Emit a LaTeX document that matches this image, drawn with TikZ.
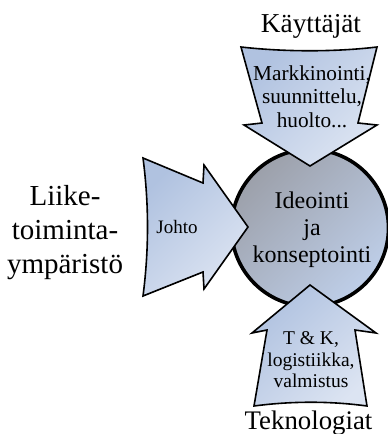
\documentclass[tikz,border=0pt]{standalone}
\usepackage{fontspec}
\setmainfont{Liberation Serif}
\begin{document}
\begin{tikzpicture}[x=1pt,y=-1pt,
  blockarrow/.style={draw=black, line width=1.6pt, line join=miter,
    top color=arrowdark, bottom color=arrowlight, shading angle=45},
  hub/.style={circle, draw=black, line width=3.6pt, minimum size=157pt,
    inner sep=0pt, top color=hubdark, bottom color=hublight, shading angle=45},
  labeltext/.style={align=center, inner sep=0pt}]
\definecolor{arrowdark}{RGB}{176,194,224}
\definecolor{arrowlight}{RGB}{220,228,242}
\definecolor{hubdark}{RGB}{156,160,170}
\definecolor{hublight}{RGB}{190,206,232}
\useasboundingbox (0,0) rectangle (388,434);

% central circle
\node[hub] (core) at (310,228) {};
\node[labeltext, font=\fontsize{24}{27}\selectfont] (coretext) at (312,229.4)
  {Ideointi\\ja\\konseptointi};

% top arrow (users)
\path[blockarrow] (241,47) .. controls (285,52) and (335,52) .. (377,47)
  -- (358,123) -- (377,125) -- (310,166) -- (244,125) -- (262,123) -- cycle;
% left arrow (business environment)
\path[blockarrow] (143,158) -- (203,183) -- (204,165) -- (248,227)
  -- (204,289) -- (203,272) -- (143,296)
  .. controls (149,250) and (149,204) .. cycle;
% bottom arrow (technologies)
\path[blockarrow] (310,285) -- (376,333) -- (355,330) -- (367,406)
  .. controls (330,401) and (292,401) .. (254,406) -- (267,330) -- (252,333) -- cycle;

% labels
\node[labeltext, anchor=base, font=\fontsize{27.3}{33}\selectfont] (users) at (311,32) {Käyttäjät};
\node[labeltext, anchor=base, font=\fontsize{26.8}{33}\selectfont] (tech) at (308.5,429) {Teknologiat};
\node[labeltext, font=\fontsize{29}{34}\selectfont] (business) at (65,232.3) {Liike-\\toiminta-\\ympäristö};
\node[labeltext, font=\fontsize{21.3}{23.5}\selectfont] (usersin) at (312,96.3) {Markkinointi,\\suunnittelu,\\huolto...};
\node[labeltext, anchor=base, font=\fontsize{19}{21}\selectfont] (lead) at (177,233) {Johto};
\node[labeltext, font=\fontsize{19.5}{21.5}\selectfont] (techin) at (311,360) {T \& K,\\logistiikka,\\valmistus};
\end{tikzpicture}
\end{document}
